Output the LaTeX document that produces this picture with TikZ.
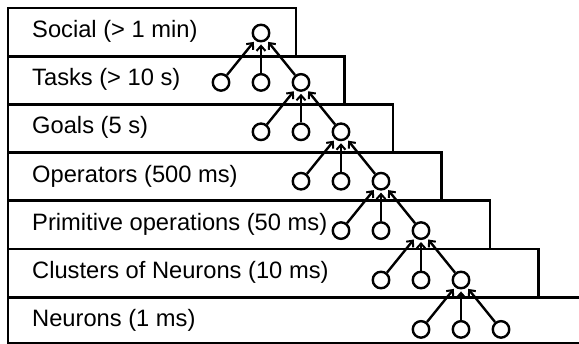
\documentclass[tikz,border=0pt]{standalone}
\usepackage{fontspec}
\setmainfont{Liberation Sans}
\usetikzlibrary{arrows.meta}

\tikzset{
	box/.style={line width=2.8pt},
	level/.style={anchor=base west, inner sep=0pt, font=\fontsize{23.7}{28}\selectfont},
	unit/.style={draw, circle, fill=white, line width=2.4pt, minimum size=16.5pt, inner sep=0pt},
	up/.style={-{Straight Barb[length=5pt,width=9pt,line width=2pt]}, line width=2.4pt, shorten >=2pt}
}

\begin{document}
\begin{tikzpicture}[x=1pt,y=1pt,yscale=-1]
	\useasboundingbox (0,0) rectangle (579,344);
	\clip (0,0) rectangle (579,344);
	\def\h{48.2}
	\def\w{48.5}
	\def\dx{40}
	\def\dy{49.4}
	
	%Shape: Rectangle
	\draw[box] (8,8) rectangle (296,8+\h);
	\draw[box] (8,8+\h) rectangle (296+\w,8+2*\h);
	\draw[box] (8,8+2*\h) rectangle (296+2*\w,8+3*\h);
	\draw[box] (8,8+3*\h) rectangle (296+3*\w,8+4*\h);
	\draw[box] (8,8+4*\h) rectangle (296+4*\w,8+5*\h);
	\draw[box] (8,8+5*\h) rectangle (296+5*\w,8+6*\h);
	\draw[box] (8,8+6*\h) rectangle (640,343);
	
	% Text Node
	\draw (32,37.5) node[level] (social) {Social (> 1 min)};
	\draw (32,37.5+\h) node[level] (tasks) {Tasks (> 10 s)};
	\draw (32,37.5+2*\h) node[level] (goals) {Goals (5 s)};
	\draw (32,37.5+3*\h) node[level] (operators) {Operators (500 ms)};
	\draw (32,37.5+4*\h) node[level] (primitive) {Primitive operations (50 ms)};
	\draw (32,37.5+5*\h) node[level] (clusters) {Clusters of Neurons (10 ms)};
	\draw (32,37.5+6*\h) node[level] (neurons) {Neurons (1 ms)};
	
	%level 1
	\node[unit] (s) at (261,33) {};
	
	%level 2
	\node[unit] (t1) at (221,33+\dy) {};
	\node[unit] (t2) at (221+\dx,33+\dy) {};
	\node[unit] (t3) at (221+2*\dx,33+\dy) {};
	\draw[up] (t1) -- (s);
	\draw[up] (t2) -- (s);
	\draw[up] (t3) -- (s);
	
	%level 3
	\node[unit] (g1) at (221+\dx,33+2*\dy) {};
	\node[unit] (g2) at (221+2*\dx,33+2*\dy) {};
	\node[unit] (g3) at (221+3*\dx,33+2*\dy) {};
	\draw[up] (g1) -- (t3);
	\draw[up] (g2) -- (t3);
	\draw[up] (g3) -- (t3);
	
	%level 4
	\node[unit] (o1) at (221+2*\dx,33+3*\dy) {};
	\node[unit] (o2) at (221+3*\dx,33+3*\dy) {};
	\node[unit] (o3) at (221+4*\dx,33+3*\dy) {};
	\draw[up] (o1) -- (g3);
	\draw[up] (o2) -- (g3);
	\draw[up] (o3) -- (g3);
	
	%level 5
	\node[unit] (p1) at (221+3*\dx,33+4*\dy) {};
	\node[unit] (p2) at (221+4*\dx,33+4*\dy) {};
	\node[unit] (p3) at (221+5*\dx,33+4*\dy) {};
	\draw[up] (p1) -- (o3);
	\draw[up] (p2) -- (o3);
	\draw[up] (p3) -- (o3);
	
	%level 6
	\node[unit] (c1) at (221+4*\dx,33+5*\dy) {};
	\node[unit] (c2) at (221+5*\dx,33+5*\dy) {};
	\node[unit] (c3) at (221+6*\dx,33+5*\dy) {};
	\draw[up] (c1) -- (p3);
	\draw[up] (c2) -- (p3);
	\draw[up] (c3) -- (p3);
	
	%level 7
	\node[unit] (n1) at (221+5*\dx,33+6*\dy) {};
	\node[unit] (n2) at (221+6*\dx,33+6*\dy) {};
	\node[unit] (n3) at (221+7*\dx,33+6*\dy) {};
	\draw[up] (n1) -- (c3);
	\draw[up] (n2) -- (c3);
	\draw[up] (n3) -- (c3);
\end{tikzpicture}
\end{document}
